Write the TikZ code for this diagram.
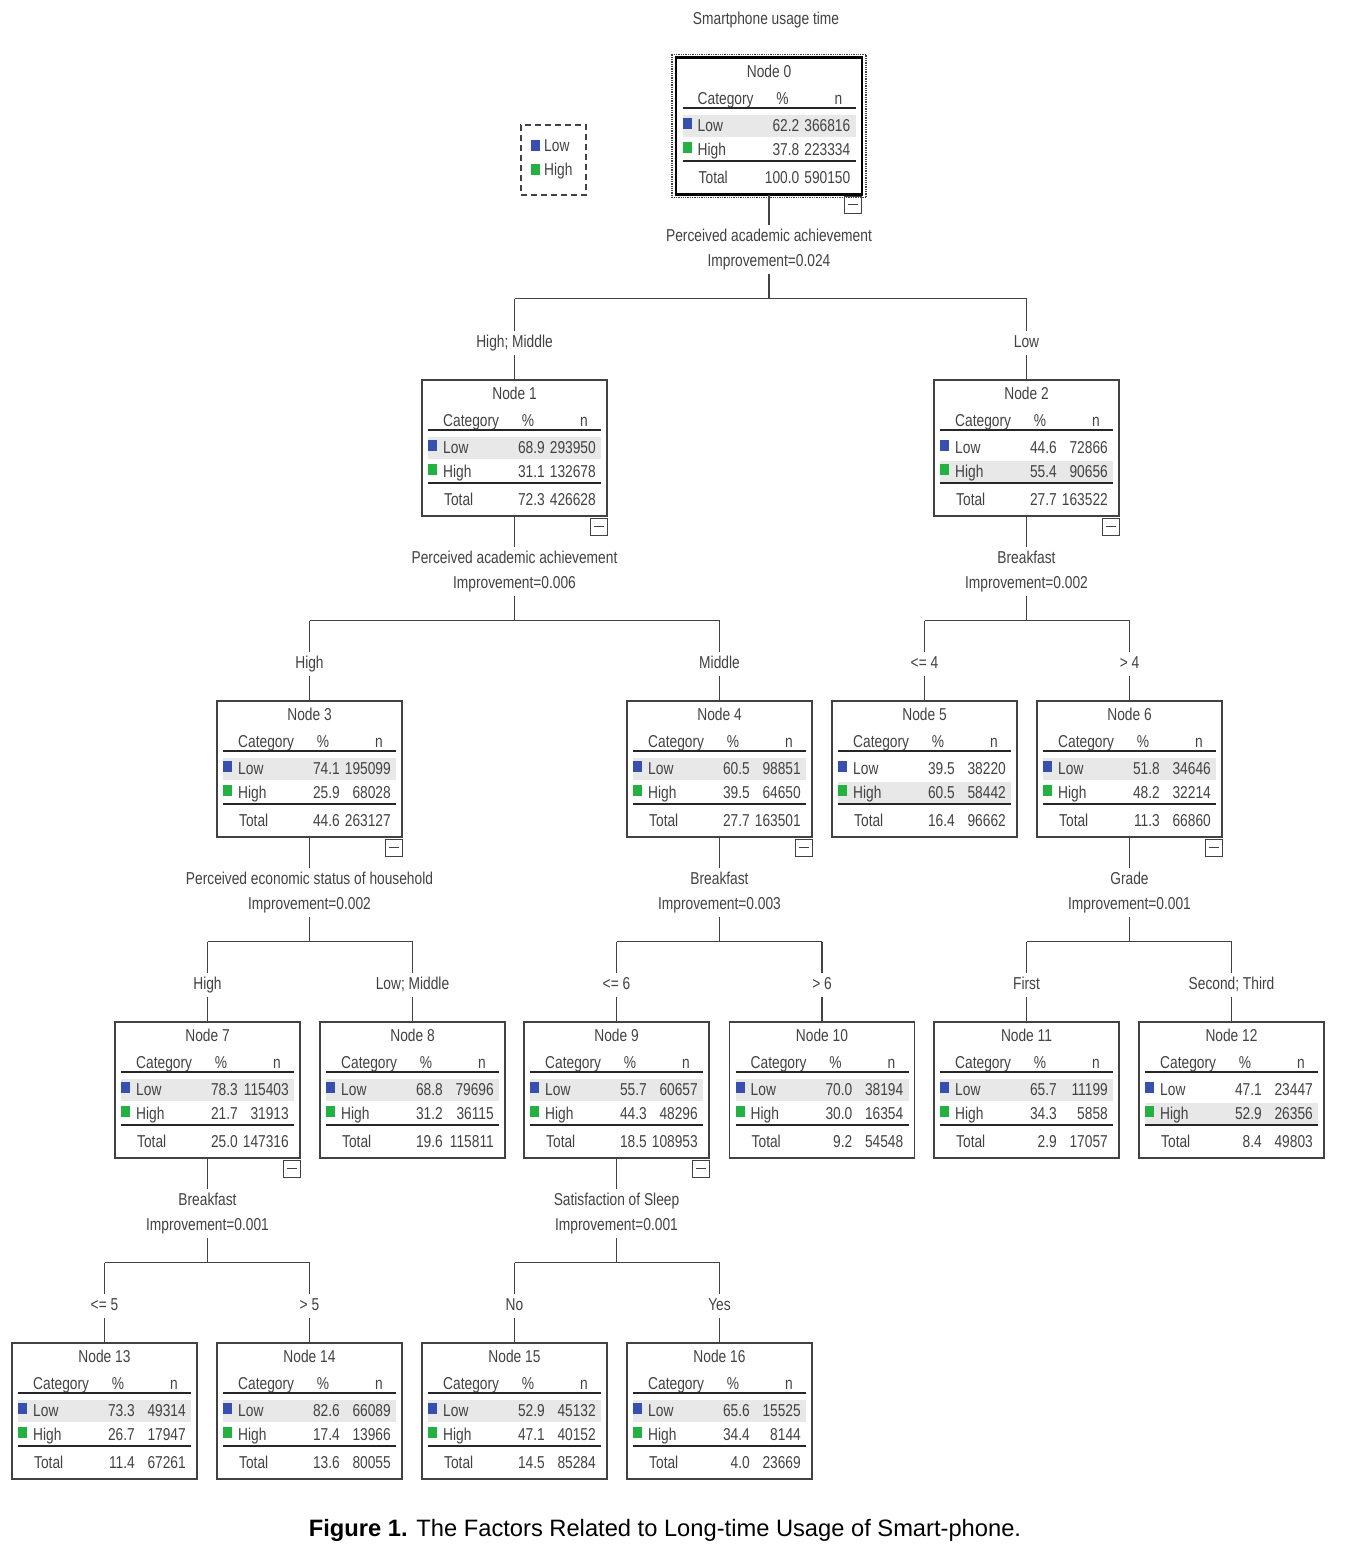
\documentclass[tikz,border=0pt]{standalone}
\usepackage{fontspec}
\setmainfont{Liberation Sans}
\newfontfamily\spssfont{Liberation Sans}[FakeStretch=0.8]
\usetikzlibrary{positioning}
\definecolor{lowblue}{RGB}{55,80,175}
\definecolor{highgreen}{RGB}{35,178,65}
\definecolor{bandgray}{RGB}{232,232,232}
\definecolor{inkgray}{RGB}{66,66,66}
\tikzset{
    tlabel/.style={font=\spssfont\fontsize{17.2}{25}\selectfont,text=inkgray,
        inner sep=1pt,text height=12.5pt,text depth=3.6pt},
    blabel/.style={tlabel,fill=white,inner ysep=4pt},
    slabel/.style={font=\spssfont\fontsize{17.2}{25}\selectfont,text=inkgray,
        align=center,fill=white,inner sep=4pt},
    treebox/.style={draw=inkgray,line width=1.2pt,minimum width=185pt,
        minimum height=136pt,inner sep=0pt},
    minusbox/.style={draw=inkgray,line width=1.1pt,minimum size=17pt,inner sep=0pt,
        anchor=north east},
    rule/.style={line width=1.4pt,draw=black!85},
    edge/.style={line width=1.2pt,draw=inkgray},
}
\begin{document}
\begin{tikzpicture}[x=1pt,y=-1pt]
    \useasboundingbox (0,0) rectangle (1344,1547);

    \node[tlabel] (title) at (766,20) {Smartphone usage time};

    \node[draw=inkgray,line width=1.2pt,dash pattern=on 6pt off 4pt,
        minimum width=65pt,minimum height=70pt,inner sep=0pt] (legend) at (553.5,160) {};
    \fill[lowblue] (531,140) rectangle (540,151);
    \fill[highgreen] (531,164) rectangle (540,175);
    \node[tlabel,anchor=west] (leg-low) at (543,147) {Low};
    \node[tlabel,anchor=west] (leg-high) at (543,171) {High};

    \foreach \i/\cx/\ty/\lp/\ln/\hp/\hn/\tp/\tn/\hl in {
        0/769/58/62.2/366816/37.8/223334/100.0/590150/1,
        1/514.5/380/68.9/293950/31.1/132678/72.3/426628/1,
        2/1026.5/380/44.6/72866/55.4/90656/27.7/163522/2,
        3/309.5/701/74.1/195099/25.9/68028/44.6/263127/1,
        4/719.5/701/60.5/98851/39.5/64650/27.7/163501/1,
        5/924.5/701/39.5/38220/60.5/58442/16.4/96662/2,
        6/1129.5/701/51.8/34646/48.2/32214/11.3/66860/1,
        7/207.5/1022/78.3/115403/21.7/31913/25.0/147316/1,
        8/412.5/1022/68.8/79696/31.2/36115/19.6/115811/1,
        9/616.5/1022/55.7/60657/44.3/48296/18.5/108953/1,
        10/822/1022/70.0/38194/30.0/16354/9.2/54548/1,
        11/1026.5/1022/65.7/11199/34.3/5858/2.9/17057/1,
        12/1231.5/1022/47.1/23447/52.9/26356/8.4/49803/2,
        13/104.5/1343/73.3/49314/26.7/17947/11.4/67261/1,
        14/309.5/1343/82.6/66089/17.4/13966/13.6/80055/1,
        15/514.5/1343/52.9/45132/47.1/40152/14.5/85284/1,
        16/719.5/1343/65.6/15525/34.4/8144/4.0/23669/1}{
        \begin{scope}[shift={(\cx-92.5,\ty)}]
            \fill[bandgray] (6,{33+24*\hl}) rectangle (179,{55+24*\hl});
            \node[treebox] (n\i) at (92.5,68) {};
            \node[tlabel] (n\i-name) at (92.5,15) {Node \i};
            \node[tlabel,anchor=west] (n\i-cat) at (20,42) {Category};
            \node[tlabel] (n\i-pct) at (106,42) {\%};
            \node[tlabel] (n\i-n) at (162,42) {n};
            \draw[rule] (6,50) -- (179,50);
            \fill[lowblue] (6,60) rectangle (15,71);
            \node[tlabel,anchor=west] (n\i-low) at (20,69) {Low};
            \node[tlabel,anchor=east] (n\i-lp) at (124,69) {\lp};
            \node[tlabel,anchor=east] (n\i-ln) at (175,69) {\ln};
            \fill[highgreen] (6,84) rectangle (15,95);
            \node[tlabel,anchor=west] (n\i-high) at (20,93) {High};
            \node[tlabel,anchor=east] (n\i-hp) at (124,93) {\hp};
            \node[tlabel,anchor=east] (n\i-hn) at (175,93) {\hn};
            \draw[rule] (6,103) -- (179,103);
            \node[tlabel,anchor=west] (n\i-total) at (21,121) {Total};
            \node[tlabel,anchor=east] (n\i-tp) at (124,121) {\tp};
            \node[tlabel,anchor=east] (n\i-tn) at (175,121) {\tn};
        \end{scope}
    }

    \draw[black,line width=2.6pt] (n0.north west) rectangle (n0.south east);
    \draw[inkgray,line width=1.3pt,densely dotted]
        ([shift={(-4pt,3pt)}]n0.north west) rectangle ([shift={(4pt,-3pt)}]n0.south east);

    \foreach \p/\a/\b/\alab/\blab/\var/\imp in {
        0/1/2/{High; Middle}/{Low}/{Perceived academic achievement}/0.024,
        1/3/4/{High}/{Middle}/{Perceived academic achievement}/0.006,
        2/5/6/{<= 4}/{> 4}/{Breakfast}/0.002,
        3/7/8/{High}/{Low; Middle}/{Perceived economic status of household}/0.002,
        4/9/10/{<= 6}/{> 6}/{Breakfast}/0.003,
        6/11/12/{First}/{Second; Third}/{Grade}/0.001,
        7/13/14/{<= 5}/{> 5}/{Breakfast}/0.001,
        9/15/16/{No}/{Yes}/{Satisfaction of Sleep}/0.001}{
        \node[minusbox] (m\p) at ([yshift=-1pt]n\p.south east) {};
        \draw[inkgray,line width=1.1pt] ([xshift=4pt]m\p.west) -- ([xshift=-4pt]m\p.east);
        \node[slabel,below=30pt of n\p] (sp\p) {\var\\Improvement=\imp};
        \coordinate[below=104pt of n\p] (bar\p);
        \node[blabel,above=24pt of n\a] (b\a) {\alab};
        \node[blabel,above=24pt of n\b] (b\b) {\blab};
        \draw[edge] (n\p.south) -- (sp\p.north);
        \draw[edge] (sp\p.south) -- (bar\p);
        \draw[edge] (b\a.north |- bar\p) -- (b\b.north |- bar\p);
        \draw[edge] (b\a.north |- bar\p) -- (b\a.north);
        \draw[edge] (b\b.north |- bar\p) -- (b\b.north);
        \draw[edge] (b\a.south) -- (n\a.north);
        \draw[edge] (b\b.south) -- (n\b.north);
    }

    \node (caption) at (665,1530) {\fontsize{23.7}{28}\selectfont
        \textbf{Figure 1.} The Factors Related to Long-time Usage of Smart-phone.};
\end{tikzpicture}
\end{document}
